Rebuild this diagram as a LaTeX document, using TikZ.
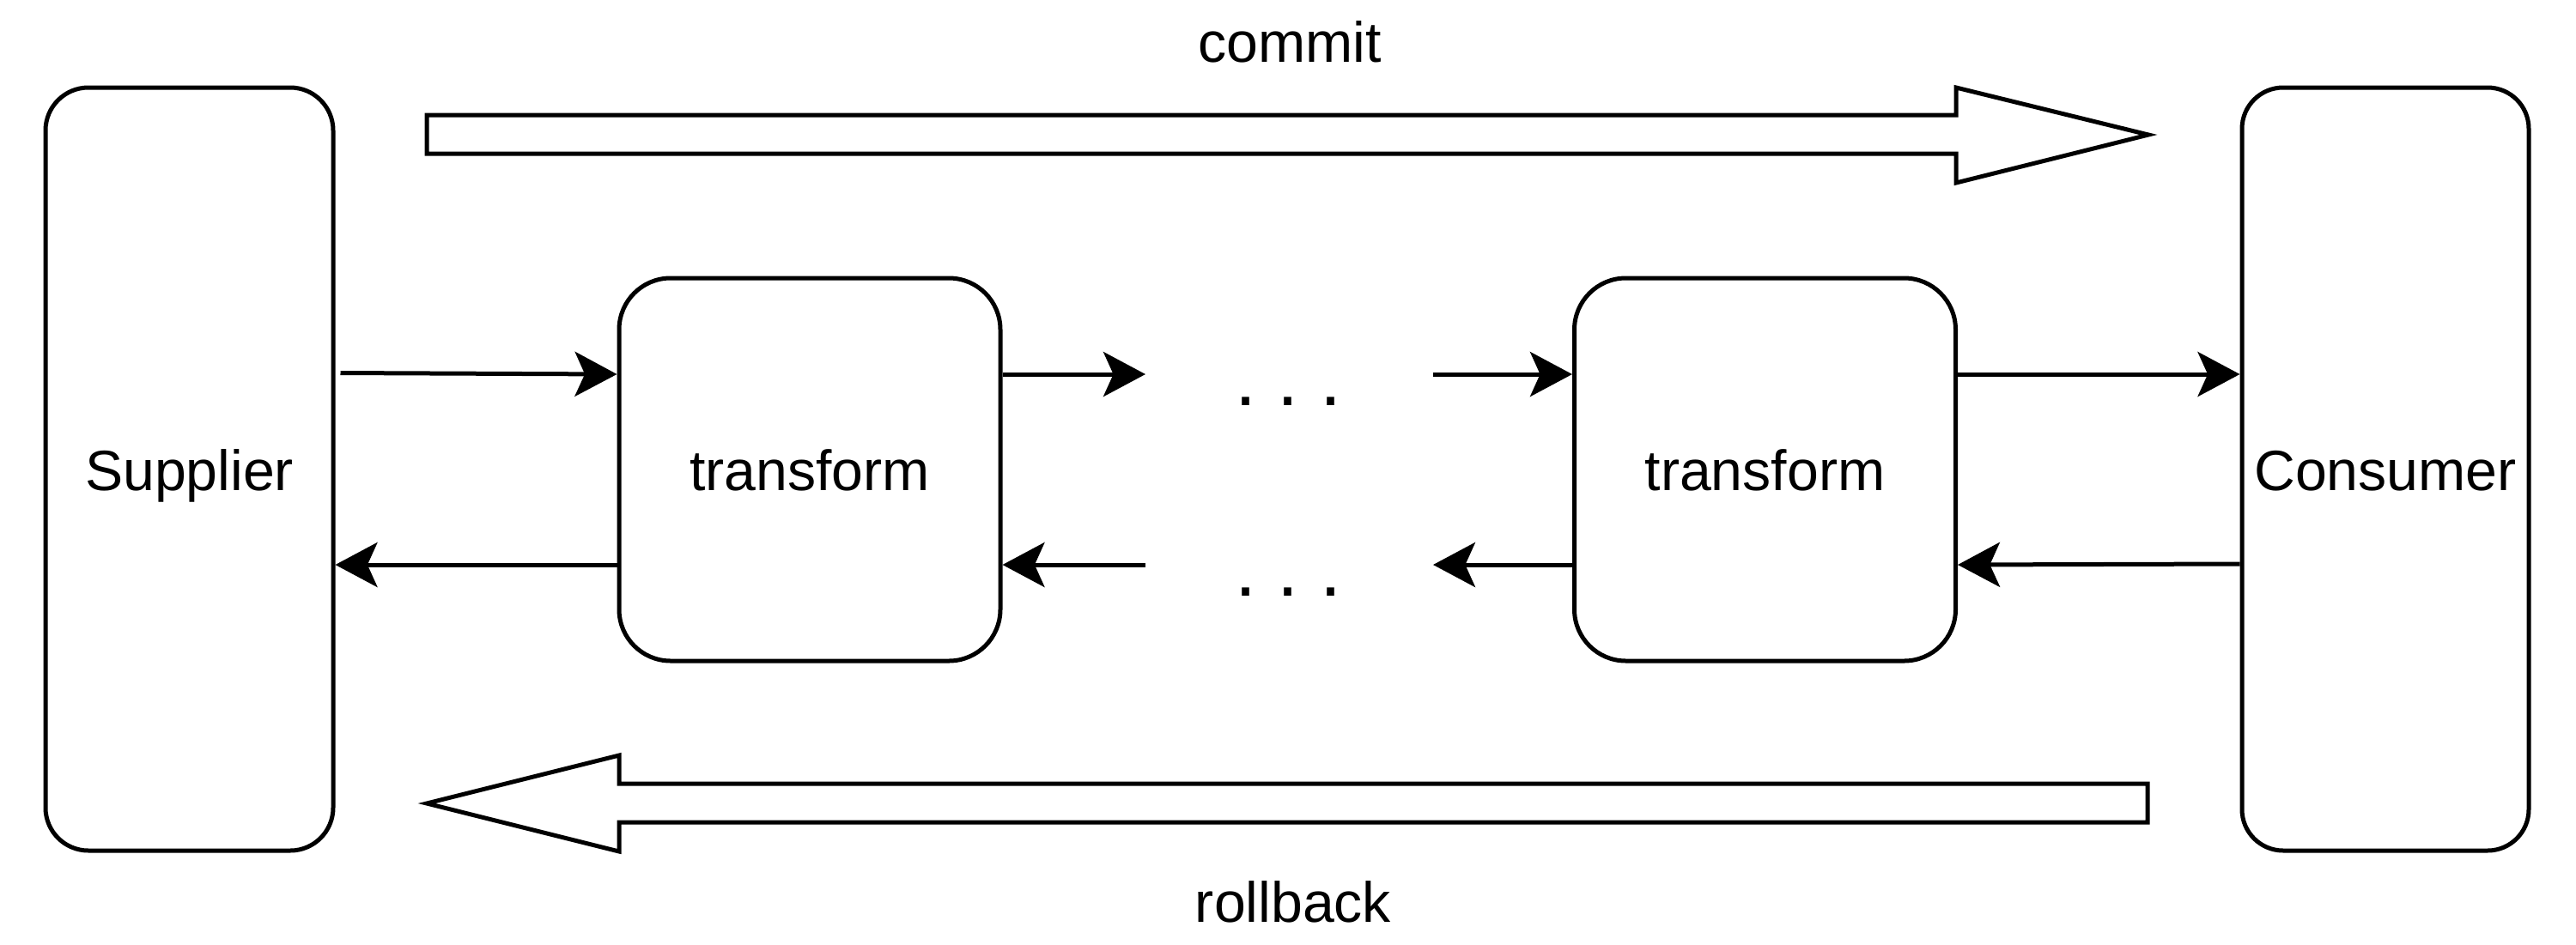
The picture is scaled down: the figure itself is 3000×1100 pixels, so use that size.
\documentclass[tikz,border=0pt]{standalone}
\usepackage{fontspec}
\setmainfont{Liberation Sans}
\usetikzlibrary{arrows.meta}
\begin{document}
\begin{tikzpicture}[x=0.5pt,y=-0.5pt,
  lw/.style={line width=2.5pt},
  txt/.style={font=\fontsize{33.1pt}{39.7pt}\selectfont, text height=30.4pt, text depth=5.6pt, inner sep=0pt},
  box/.style={draw, lw, txt, rounded corners=#1},
  conn/.style={lw, -{Stealth[length=24.5pt,width=26pt,inset=5.8pt]}},
  dotstyle/.style={font=\fontsize{45pt}{54pt}\selectfont, inner sep=0pt, anchor=base},
  blockarrow/.style={lw, line join=miter}
]
\useasboundingbox (0,0) rectangle (3000,1100);

% main boxes
\node[box=25pt, minimum width=167.5pt, minimum height=444.5pt] (S) at (220.5,546.5) {Supplier};
\node[box=24pt, minimum width=167pt, minimum height=444.5pt] (C) at (2778,546.5) {Consumer};
\node[box=30pt, minimum width=222pt, minimum height=223pt] (T1) at (943,547) {transform};
\node[box=30pt, minimum width=222pt, minimum height=223pt] (T2) at (2055.5,547) {transform};

% dots
\node[dotstyle] (dotsTop) at (1500,472.5) {.\hspace{12.25pt}.\hspace{12.25pt}.};
\node[dotstyle] (dotsBot) at (1500,694.5) {.\hspace{12.25pt}.\hspace{12.25pt}.};

% free ends
\coordinate (d1) at (1334,436);
\coordinate (d2) at (1669,436);
\coordinate (d3) at (1669,658);
\coordinate (d4) at (1334,658);

% forward connectors
\draw[conn] ([xshift=3pt,yshift=56pt]S.east) -- ([yshift=55.5pt]T1.west);
\draw[conn] ([yshift=55.5pt]T1.east) -- (d1);
\draw[conn] (d2) -- ([yshift=55.5pt]T2.west);
\draw[conn] ([yshift=55.5pt]T2.east) -- ([yshift=55.25pt]C.west);

% backward connectors
\draw[conn] ([yshift=-55.25pt]C.west) -- ([yshift=-55.5pt]T2.east);
\draw[conn] ([yshift=-55.5pt]T2.west) -- (d3);
\draw[conn] (d4) -- ([yshift=-55.5pt]T1.east);
\draw[conn] ([yshift=-55.5pt]T1.west) -- ([yshift=-55.75pt]S.east);

% block arrows
\draw[blockarrow] (497,134) -- (2278,134) -- (2278,102) -- (2502,157) -- (2278,213) -- (2278,179) -- (497,179) -- cycle;
\draw[blockarrow] (2501,913) -- (721,913) -- (721,880) -- (497,936) -- (721,992) -- (721,958) -- (2501,958) -- cycle;

% labels
\node[txt] (commit) at (1502,48) {commit};
\node[txt] (rollback) at (1506,1050) {rollback};
\end{tikzpicture}
\end{document}
